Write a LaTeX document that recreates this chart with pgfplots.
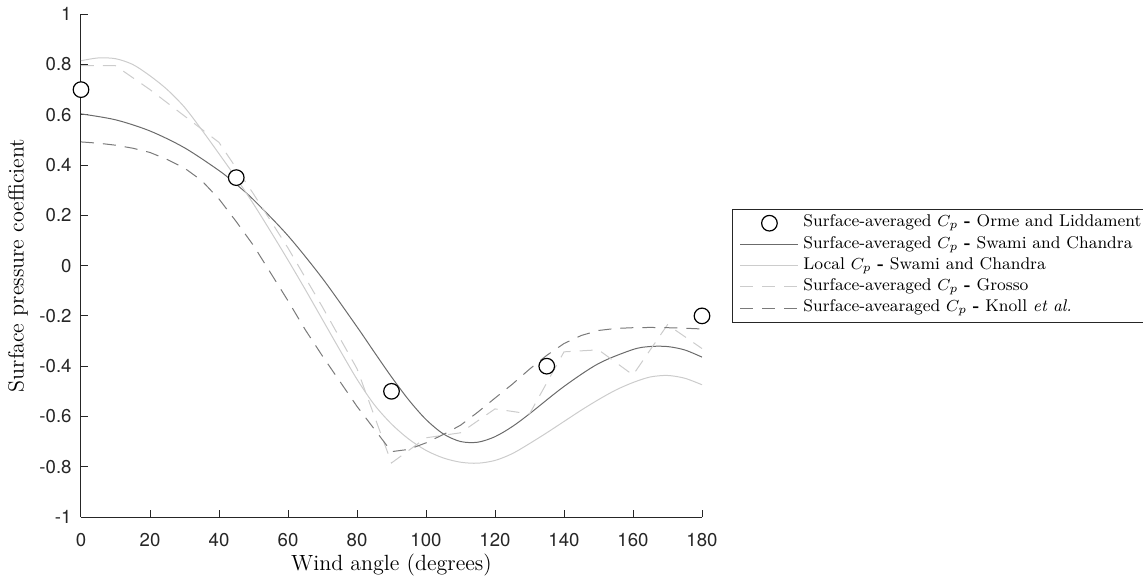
\documentclass[border=0pt]{standalone}
\usepackage{fontspec}
\usepackage{pgfplots}
\pgfplotsset{compat=1.18}
\newfontfamily\tickfont{TeX Gyre Heros}

\definecolor{axisgray}{gray}{0.15}
\definecolor{avggray}{gray}{0.42}
\definecolor{lightline}{gray}{0.80}
\definecolor{knollgray}{gray}{0.48}

\pgfplotsset{
  shortline legend/.style={legend image code/.code={\path (0pt,0pt) (31.75pt,0pt);
    \draw[##1] (2.75pt,0pt) -- (31.75pt,0pt);}},
  centremark legend/.style={legend image code/.code={\path (0pt,0pt) (31.75pt,0pt);
    \draw[##1] plot coordinates {(17.25pt,0pt)};}},
}

\begin{document}
\begin{tikzpicture}
\useasboundingbox (0,0) rectangle (571.5pt,290pt);
\begin{axis}[
  at={(40.5pt,31.5pt)}, anchor=south west,
  width=310.5pt, height=251.4pt, scale only axis,
  xmin=0, xmax=180, ymin=-1, ymax=1,
  clip=false,
  axis x line*=bottom, axis y line*=left,
  axis line style={draw=axisgray, line width=0.5pt, -},
  tick align=inside, major tick length=3.5pt,
  tick style={draw=axisgray, line width=0.5pt},
  xtick={0,20,40,60,80,100,120,140,160,180},
  xticklabels={0,20,40,60,80,100,120,140,160,180},
  ytick={-1,-0.8,-0.6,-0.4,-0.2,0,0.2,0.4,0.6,0.8,1},
  yticklabels={-1,-0.8,-0.6,-0.4,-0.2,0,0.2,0.4,0.6,0.8,1},
  ticklabel style={font=\tickfont\fontsize{9.3}{11}\selectfont, text=axisgray},
  yticklabel style={xshift=-1.2pt},
  xticklabel style={yshift=-4.5pt},
  xlabel={Wind angle (degrees)},
  ylabel={Surface pressure coefficient},
  label style={font=\fontsize{11}{13}\selectfont},
  xlabel style={at={(axis description cs:0.5,-0.0955)}, anchor=center},
  ylabel style={at={(axis description cs:-0.1014,0.5)}, anchor=center},
  legend cell align={left},
  legend style={
    at={(axis description cs:1.049,0.5)}, anchor=west,
    draw=axisgray, line width=0.5pt, fill=white,
    inner xsep=0.75pt, inner ysep=1.8pt,
    font=\fontsize{8.5}{10.5}\selectfont,
    row sep=0pt,
    nodes={inner xsep=1.25pt, inner ysep=0.6pt, text height=6.5pt, text depth=2.9pt},
    /tikz/every odd column/.append style={column sep=1pt},
    /tikz/every even column/.append style={column sep=0pt},
  },
]

% Orme and Liddament, surface-averaged
\addplot[only marks, mark=*, mark size=3.9pt,
  mark options={fill=white, draw=black, line width=0.6pt, solid},
  centremark legend]
  coordinates {(0,0.70) (45,0.35) (90,-0.50) (135,-0.40) (180,-0.20)};
\addlegendentry{Surface-averaged $C_p$ \textbf{-} Orme and Liddament}

% Swami and Chandra, surface-averaged
\addplot[smooth, color=avggray, line width=0.5pt, shortline legend]
  coordinates {(0,0.6035) (10,0.5800) (20,0.5355) (30,0.4687) (40,0.3781)
  (45,0.3233) (50,0.2619) (60,0.1188) (70,-0.0512) (80,-0.2435) (85,-0.3439)
  (90,-0.4427) (95,-0.5344) (100,-0.6122) (105,-0.6692) (110,-0.6997)
  (115,-0.7025) (120,-0.6805) (125,-0.6404) (130,-0.5895) (140,-0.4807)
  (150,-0.3897) (160,-0.3337) (165,-0.3218) (170,-0.3220) (175,-0.3355)
  (180,-0.3640)};
\addlegendentry{Surface-averaged $C_p$ \textbf{-} Swami and Chandra}

% Swami and Chandra, local
\addplot[smooth, color=lightline, line width=0.5pt, shortline legend]
  coordinates {(0,0.815) (5,0.826) (10,0.823) (15,0.800) (20,0.755) (25,0.700)
  (30,0.630) (35,0.540) (40,0.445) (45,0.348) (50,0.245) (55,0.135) (60,0.022)
  (65,-0.095) (70,-0.215) (75,-0.335) (80,-0.452) (85,-0.553) (90,-0.630)
  (95,-0.690) (100,-0.735) (105,-0.765) (110,-0.782) (115,-0.786) (120,-0.775)
  (125,-0.748) (130,-0.708) (135,-0.665) (140,-0.620) (145,-0.575) (150,-0.533)
  (155,-0.495) (160,-0.465) (165,-0.443) (170,-0.437) (175,-0.448) (180,-0.474)};
\addlegendentry{Local $C_p$ \textbf{-} Swami and Chandra}

% Grosso, surface-averaged
\addplot[color=lightline, line width=0.5pt, dash pattern=on 6.5pt off 4.5pt, shortline legend]
  coordinates {(0,0.795) (10,0.795) (20,0.700) (30,0.595) (40,0.490) (50,0.285)
  (60,0.070) (70,-0.165) (80,-0.410) (90,-0.785) (100,-0.685) (110,-0.665)
  (120,-0.570) (130,-0.590) (140,-0.343) (150,-0.335) (160,-0.435)
  (170,-0.235) (180,-0.330)};
\addlegendentry{Surface-averaged $C_p$ \textbf{-} Grosso}

% Knoll et al., surface-averaged
\addplot[color=knollgray, line width=0.5pt, dash pattern=on 6.5pt off 4.5pt, shortline legend]
  coordinates {(0,0.492) (5,0.487) (10,0.479) (15,0.467) (20,0.450) (25,0.422)
  (30,0.388) (35,0.338) (40,0.265) (45,0.175) (50,0.080) (55,-0.030)
  (60,-0.140) (65,-0.255) (70,-0.360) (75,-0.460) (80,-0.560) (85,-0.650)
  (90,-0.740) (95,-0.731) (100,-0.705) (105,-0.672) (110,-0.635) (115,-0.583)
  (120,-0.527) (125,-0.472) (130,-0.412) (135,-0.357) (140,-0.310)
  (145,-0.278) (150,-0.258) (155,-0.250) (160,-0.247) (165,-0.246)
  (170,-0.247) (175,-0.249) (180,-0.252)};
\addlegendentry{Surface-avearaged $C_p$ \textbf{-} Knoll \textit{et al.}}

\end{axis}
\end{tikzpicture}
\end{document}
